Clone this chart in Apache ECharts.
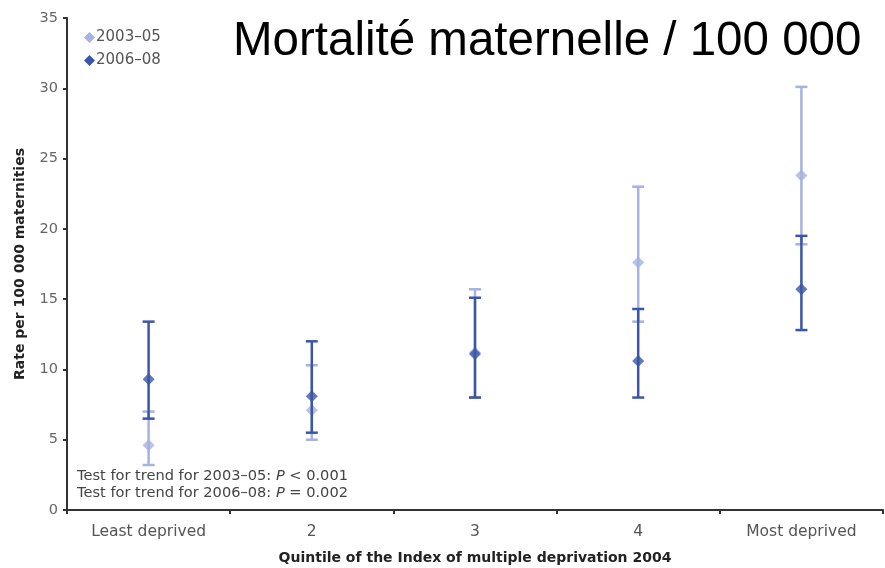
<!DOCTYPE html>
<html>
<head>
<meta charset="utf-8">
<script src="https://cdn.jsdelivr.net/npm/echarts@6/dist/echarts.min.js"></script>
<style>
  html, body { margin: 0; padding: 0; background: #fff; }
  #chart { width: 885px; height: 568px; }
</style>
</head>
<body>
<div id="chart"></div>
<script>
// Maternal mortality rate per 100 000 maternities by deprivation quintile
const categories = ['Least deprived', '2', '3', '4', 'Most deprived'];
const seriesNames = ['2003–05', '2006–08'];

// 2003–05: point estimate and 95% confidence interval
const rate0305 = [4.6, 7.1, 11.2, 17.6, 23.8];
const low0305  = [3.2, 5.0, 8.0, 13.4, 18.9];
const high0305 = [7.0, 10.3, 15.7, 23.0, 30.1];

// 2006–08: point estimate and 95% confidence interval
const rate0608 = [9.3, 8.1, 11.1, 10.6, 15.7];
const low0608  = [6.5, 5.5, 8.0, 8.0, 12.8];
const high0608 = [13.4, 12.0, 15.1, 14.3, 19.5];

const yTicks = { min: 0, max: 35, interval: 5 };

const colorLight = '#a7b2de';
const colorDark = '#3b56a8';
const smallFont = '"DejaVu Sans", Verdana, sans-serif';

function errorBars(low, high) {
  return low.map((v, i) => [i, v, high[i]]);
}

function renderErrorBar(color, width) {
  return function (params, api) {
    const x = api.value(0);
    const lo = api.coord([x, api.value(1)]);
    const hi = api.coord([x, api.value(2)]);
    const half = 6;
    const style = { stroke: color, lineWidth: width, fill: null };
    return {
      type: 'group',
      children: [
        { type: 'line', shape: { x1: lo[0], y1: lo[1], x2: hi[0], y2: hi[1] }, style },
        { type: 'line', shape: { x1: lo[0] - half, y1: lo[1], x2: lo[0] + half, y2: lo[1] }, style },
        { type: 'line', shape: { x1: hi[0] - half, y1: hi[1], x2: hi[0] + half, y2: hi[1] }, style }
      ]
    };
  };
}

const chart = echarts.init(document.getElementById('chart'), null, { renderer: 'canvas' });

chart.setOption({
  animation: false,
  textStyle: { fontFamily: smallFont },
  grid: { left: 67, right: 2, top: 18, bottom: 58, containLabel: false, outerBoundsMode: 'none' },
  legend: {
    left: 79, top: 25, orient: 'vertical', itemGap: 8,
    itemWidth: 11, itemHeight: 11,
    data: seriesNames.map(n => ({ name: n, icon: 'diamond' })),
    textStyle: { fontSize: 15, color: '#555', fontFamily: smallFont, padding: [0, 0, 0, -4] },
    itemStyle: { borderWidth: 0 }
  },
  graphic: [
    {
      type: 'text', left: 233, top: 18,
      style: { text: 'Mortalité maternelle / 100 000', fill: '#000', font: '47.5px "Liberation Sans", Arial, sans-serif' }
    },
    {
      type: 'text', left: 77, top: 469,
      style: {
        rich: {
          t: { fontSize: 14.6, fill: '#444', fontFamily: smallFont, lineHeight: 17 },
          p: { fontSize: 14.6, fill: '#444', fontFamily: smallFont, fontStyle: 'italic', lineHeight: 17 }
        },
        text: '{t|Test for trend for 2003–05: }{p|P}{t| < 0.001}\n{t|Test for trend for 2006–08: }{p|P}{t| = 0.002}'
      }
    }
  ],
  xAxis: {
    type: 'category',
    data: categories,
    boundaryGap: true,
    axisLine: { lineStyle: { color: '#333', width: 2 } },
    axisTick: { show: true, length: 4, lineStyle: { color: '#333', width: 2 } },
    axisLabel: { color: '#555', fontSize: 15.5, margin: 14 },
    name: 'Quintile of the Index of multiple deprivation 2004',
    nameLocation: 'middle', nameGap: 41,
    nameTextStyle: { color: '#222', fontSize: 14, fontWeight: 'bold' }
  },
  yAxis: {
    type: 'value',
    min: yTicks.min, max: yTicks.max, interval: yTicks.interval,
    splitLine: { show: false },
    axisLine: { show: true, lineStyle: { color: '#333', width: 2 } },
    axisTick: { show: true, length: 4, lineStyle: { color: '#333', width: 2 } },
    axisLabel: { color: '#666', fontSize: 14.5, margin: 9 },
    name: 'Rate per 100 000 maternities',
    nameLocation: 'middle', nameGap: 40, nameRotate: 90,
    nameTextStyle: { color: '#222', fontSize: 14, fontWeight: 'bold' }
  },
  series: [
    {
      name: seriesNames[0], type: 'custom', z: 2,
      renderItem: renderErrorBar(colorLight, 2.5),
      data: errorBars(low0305, high0305),
      itemStyle: { color: colorLight },
      encode: { x: 0, y: [1, 2] }
    },
    {
      name: seriesNames[0], type: 'scatter', z: 3,
      symbol: 'diamond', symbolSize: 12,
      itemStyle: { color: colorLight },
      data: rate0305
    },
    {
      name: seriesNames[1], type: 'custom', z: 4,
      renderItem: renderErrorBar(colorDark, 2.5),
      data: errorBars(low0608, high0608),
      itemStyle: { color: colorDark },
      encode: { x: 0, y: [1, 2] }
    },
    {
      name: seriesNames[1], type: 'scatter', z: 5,
      symbol: 'diamond', symbolSize: 12,
      itemStyle: { color: colorDark },
      data: rate0608
    }
  ]
});
</script>
</body>
</html>
